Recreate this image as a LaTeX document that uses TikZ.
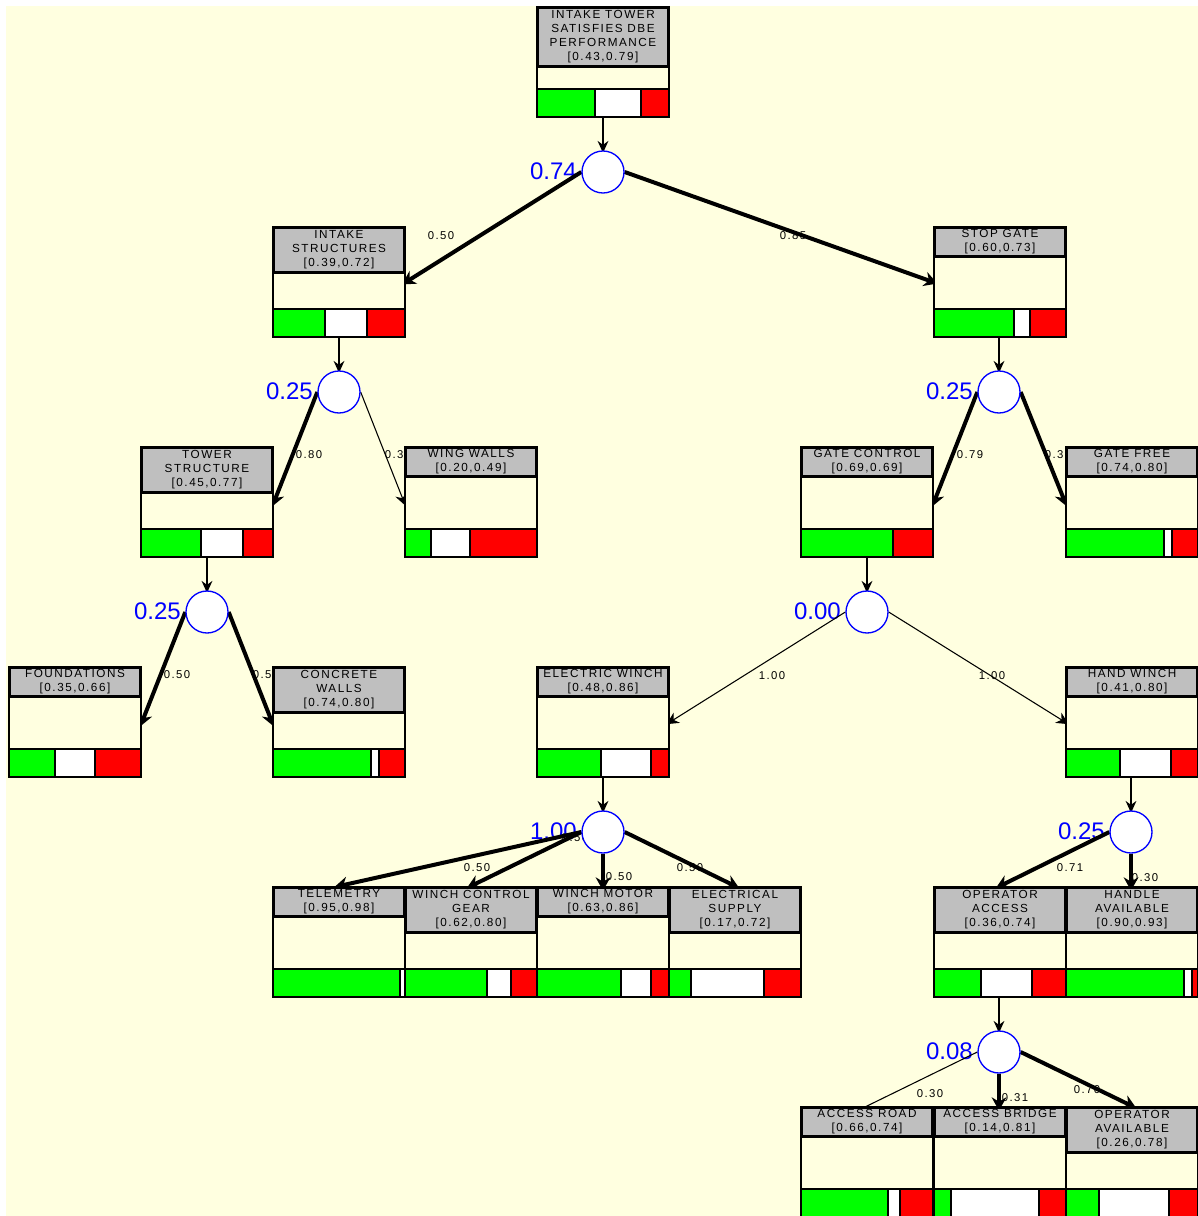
\documentclass[tikz,border=0pt]{standalone}
\usepackage{fontspec}
\setmainfont{Liberation Sans}
\newfontfamily\boxfont[LetterSpace=13]{Liberation Sans}
\usetikzlibrary{arrows.meta}
\pgfdeclarelayer{ground}
\pgfdeclarelayer{edges}
\pgfsetlayers{ground,edges,main}
\definecolor{creambg}{HTML}{FFFFE0}
\definecolor{greyhead}{HTML}{BFBFBF}
\definecolor{okgreen}{HTML}{00FF00}
\definecolor{badred}{HTML}{FF0000}
\definecolor{nodeblue}{HTML}{0000FF}
\tikzset{
  frame/.style={draw=black,line width=1.5pt,fill=creambg,minimum width=99pt,minimum height=82.5pt,inner sep=0pt},
  head/.style={draw=black,line width=1.7pt,fill=greyhead},
  seg/.style={draw=black,line width=1.2pt},
  boxtext/.style={font=\boxfont\fontsize{8.8pt}{10.5pt}\selectfont,align=center,inner sep=0pt,text=black},
  weight/.style={font=\boxfont\fontsize{8.5pt}{10pt}\selectfont,inner sep=0pt,text=black},
  gate/.style={circle,draw=nodeblue,line width=1pt,fill=white,minimum size=31.5pt,inner sep=0pt},
  gatelabel/.style={font=\fontsize{18pt}{20pt}\selectfont,text=nodeblue,inner sep=0pt,anchor=east},
  feed/.style={draw=black,line width=1.5pt,-{Stealth[length=9pt,width=8pt]},shorten >=-2pt},
  fat/.style={draw=black,line width=3pt,-{Stealth[length=10pt,width=11pt]},shorten >=-3.5pt},
  slim/.style={draw=black,line width=0.8pt,-{Stealth[length=9pt,width=9pt]},shorten >=-3pt},
}
% name, left, top, header height, green end, white end, text
\newcommand{\pbox}[7]{%
  \node[frame] (#1) at (#2+66,#3+55) {};
  \path[head] (#2+1,#3+1) rectangle (#2+131,#3+#4-0.5);
  \path[seg,fill=okgreen] (#2,#3+82) rectangle (#5,#3+110);
  \path[seg,fill=white] (#5,#3+82) rectangle (#6,#3+110);
  \path[seg,fill=badred] (#6,#3+82) rectangle (#2+132,#3+110);
  \node[boxtext] (#1-text) at (#2+66,#3+#4/2) {#7};
}
\begin{document}
\begin{tikzpicture}[x=0.75pt,y=-0.75pt]
\useasboundingbox (0,0) rectangle (1198,1216);
\begin{pgfonlayer}{ground}
\fill[white] (0,0) rectangle (1198,1216);
\fill[creambg] (6,6) rectangle (1198,1216);

% edge weights (under the boxes)
\node[weight] (w01) at (441,236) {0.50};
\node[weight] (w02) at (793,236) {0.85};
\node[weight] (w03) at (309,455) {0.80};
\node[weight] (w04) at (398,455) {0.30};
\node[weight] (w05) at (970,455) {0.79};
\node[weight] (w06) at (1058,455) {0.30};
\node[weight] (w07) at (177,675) {0.50};
\node[weight] (w08) at (266,675) {0.50};
\node[weight] (w09) at (772,676) {1.00};
\node[weight] (w10) at (992,676) {1.00};
\node[weight] (w11) at (477,868) {0.50};
\node[weight] (w12) at (575,838) {0.50};
\node[weight] (w13) at (619,877) {0.50};
\node[weight] (w14) at (690,868) {0.50};
\node[weight] (w15) at (1070,868) {0.71};
\node[weight] (w16) at (1145,878) {0.30};
\node[weight] (w17) at (930,1094) {0.30};
\node[weight] (w18) at (1015,1098) {0.31};
\node[weight] (w19) at (1087,1090) {0.70};

% gate values
\node[gatelabel] (v1) at (577,171) {0.74};
\node[gatelabel] (v2) at (313,391) {0.25};
\node[gatelabel] (v3) at (973,391) {0.25};
\node[gatelabel] (v4) at (181,611) {0.25};
\node[gatelabel] (v5) at (841,611) {0.00};
\node[gatelabel] (v6) at (577,831) {1.00};
\node[gatelabel] (v7) at (1105,831) {0.25};
\node[gatelabel] (v8) at (973,1051) {0.08};
\end{pgfonlayer}

% boxes
\pbox{top}{537}{7}{60}{595}{641}{INTAKE TOWER\\SATISFIES DBE\\PERFORMANCE\\{[}0.43,0.79{]}}
\pbox{intake}{273}{227}{46}{325}{367}{INTAKE\\STRUCTURES\\{[}0.39,0.72{]}}
\pbox{stop}{934}{227}{30}{1014}{1030}{STOP GATE\\{[}0.60,0.73{]}}
\pbox{tower}{141}{447}{46}{201}{243}{TOWER\\STRUCTURE\\{[}0.45,0.77{]}}
\pbox{wing}{405}{447}{30}{431}{470}{WING WALLS\\{[}0.20,0.49{]}}
\pbox{gatectl}{801}{447}{30}{893}{893}{GATE CONTROL\\{[}0.69,0.69{]}}
\pbox{gatefree}{1066}{447}{30}{1164}{1172}{GATE FREE\\{[}0.74,0.80{]}}
\pbox{found}{9}{667}{30}{55}{95}{FOUNDATIONS\\{[}0.35,0.66{]}}
\pbox{concrete}{273}{667}{46}{371}{379}{CONCRETE\\WALLS\\{[}0.74,0.80{]}}
\pbox{electric}{537}{667}{30}{601}{651}{ELECTRIC WINCH\\{[}0.48,0.86{]}}
\pbox{hand}{1066}{667}{30}{1120}{1171}{HAND WINCH\\{[}0.41,0.80{]}}
\pbox{telemetry}{273}{887}{30}{400}{405}{TELEMETRY\\{[}0.95,0.98{]}}
\pbox{wcg}{405}{887}{46}{487}{511}{WINCH CONTROL\\GEAR\\{[}0.62,0.80{]}}
\pbox{motor}{537}{887}{30}{621}{651}{WINCH MOTOR\\{[}0.63,0.86{]}}
\pbox{supply}{669}{887}{46}{691}{764}{ELECTRICAL\\SUPPLY\\{[}0.17,0.72{]}}
\pbox{opaccess}{934}{887}{46}{981}{1032}{OPERATOR\\ACCESS\\{[}0.36,0.74{]}}
\pbox{handle}{1066}{887}{46}{1184}{1192}{HANDLE\\AVAILABLE\\{[}0.90,0.93{]}}
\pbox{road}{801}{1107}{30}{888}{900}{ACCESS ROAD\\{[}0.66,0.74{]}}
\pbox{bridge}{934}{1107}{30}{951}{1039}{ACCESS BRIDGE\\{[}0.14,0.81{]}}
\pbox{opavail}{1066}{1107}{46}{1099}{1169}{OPERATOR\\AVAILABLE\\{[}0.26,0.78{]}}

% gates
\node[gate] (g1) at (603,172) {};
\node[gate] (g2) at (339,392) {};
\node[gate] (g3) at (999,392) {};
\node[gate] (g4) at (207,612) {};
\node[gate] (g5) at (867,612) {};
\node[gate] (g6) at (603,832) {};
\node[gate] (g7) at (1131,832) {};
\node[gate] (g8) at (999,1052) {};

\begin{pgfonlayer}{edges}
% box to gate
\draw[feed] (g1 |- top.south) -- (g1.north);
\draw[feed] (g2 |- intake.south) -- (g2.north);
\draw[feed] (g3 |- stop.south) -- (g3.north);
\draw[feed] (g4 |- tower.south) -- (g4.north);
\draw[feed] (g5 |- gatectl.south) -- (g5.north);
\draw[feed] (g6 |- electric.south) -- (g6.north);
\draw[feed] (g7 |- hand.south) -- (g7.north);
\draw[feed] (g8 |- opaccess.south) -- (g8.north);

% gate to box
\draw[fat] (g1.west) -- (intake.east);
\draw[fat] (g1.east) -- (stop.west);
\draw[fat] (g2.west) -- (tower.east);
\draw[slim] (g2.east) -- (wing.west);
\draw[fat] (g3.west) -- (gatectl.east);
\draw[fat] (g3.east) -- (gatefree.west);
\draw[fat] (g4.west) -- (found.east);
\draw[fat] (g4.east) -- (concrete.west);
\draw[slim] (g5.west) -- (electric.east);
\draw[slim] (g5.east) -- (hand.west);
\draw[fat] (g6.west) -- (telemetry.north);
\draw[fat] (g6.west) -- (wcg.north);
\draw[fat] (g6.south) -- (g6 |- motor.north);
\draw[fat] (g6.east) -- (supply.north);
\draw[fat] (g7.west) -- (opaccess.north);
\draw[fat] (g7.south) -- (g7 |- handle.north);
\draw[slim,arrows={-},shorten >=-8pt] (g8.west) -- (road.north);
\draw[fat] (g8.south) -- (g8 |- bridge.north);
\draw[fat] (g8.east) -- (opavail.north);
\end{pgfonlayer}
\end{tikzpicture}
\end{document}
